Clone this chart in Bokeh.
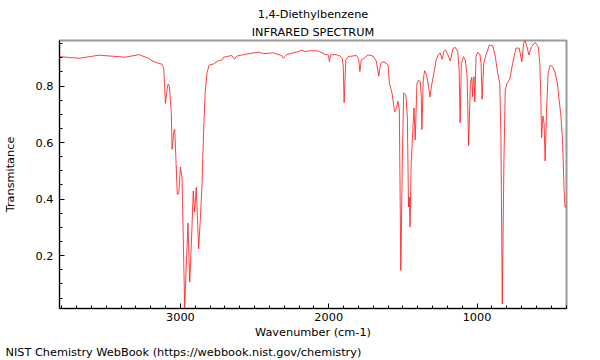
from bokeh.plotting import figure
from bokeh.models import Range1d, SingleIntervalTicker, Title
from bokeh.embed import file_html
from bokeh.resources import INLINE

title_line1 = "1,4-Diethylbenzene"
title_line2 = "INFRARED SPECTRUM"
x_label = "Wavenumber (cm-1)"
y_label = "Transmitance"
footer = "NIST Chemistry WebBook (https://webbook.nist.gov/chemistry)"

wavenumber = [
    3815, 3683, 3549, 3370, 3280, 3213, 3191, 3146, 3124, 3112, 3101, 3090, 3083, 3074,
    3061, 3056, 3043, 3038, 3029, 3021, 3011, 3000, 2989, 2971, 2960, 2949, 2937, 2927,
    2913, 2904, 2893, 2877, 2866, 2855, 2843, 2833, 2821, 2806, 2776, 2743, 2720, 2709,
    2653, 2635, 2620, 2564, 2474, 2440, 2373, 2317, 2306, 2284, 2205, 2183, 2161, 2116,
    2071, 2026, 2003, 1995, 1988, 1959, 1925, 1909, 1902, 1896, 1885, 1869, 1813, 1798,
    1790, 1780, 1768, 1735, 1701, 1679, 1663, 1650, 1634, 1612, 1600, 1591, 1573, 1556,
    1544, 1533, 1524, 1514, 1504, 1495, 1480, 1470, 1462, 1457, 1452, 1444, 1432, 1425,
    1417, 1405, 1394, 1383, 1376, 1372, 1363, 1353, 1341, 1327, 1318, 1304, 1291, 1276,
    1260, 1249, 1235, 1224, 1213, 1198, 1180, 1163, 1148, 1130, 1121, 1114, 1106, 1092,
    1079, 1067, 1057, 1045, 1036, 1030, 1025, 1020, 1015, 1007, 995, 980, 973, 966,
    955, 940, 917, 894, 877, 861, 847, 839, 830, 819, 810, 798, 780, 760, 738, 716,
    698, 686, 675, 664, 651, 632, 608, 588, 577, 570, 565, 556, 548, 541, 532, 521,
    507, 491, 476, 458, 447, 436, 424, 413, 407, 397,
]
transmittance = [
    0.904, 0.898, 0.909, 0.902, 0.911, 0.898, 0.889, 0.880, 0.877, 0.863, 0.739, 0.786, 0.807, 0.798,
    0.703, 0.576, 0.644, 0.646, 0.526, 0.417, 0.419, 0.514, 0.478, 0.013, 0.171, 0.315, 0.106, 0.230,
    0.429, 0.354, 0.441, 0.224, 0.325, 0.443, 0.644, 0.775, 0.845, 0.874, 0.878, 0.890, 0.892, 0.902,
    0.908, 0.895, 0.906, 0.912, 0.920, 0.915, 0.917, 0.908, 0.898, 0.911, 0.922, 0.927, 0.922, 0.925,
    0.924, 0.912, 0.910, 0.886, 0.910, 0.912, 0.907, 0.898, 0.868, 0.741, 0.892, 0.904, 0.908, 0.895,
    0.851, 0.892, 0.896, 0.910, 0.906, 0.888, 0.835, 0.880, 0.886, 0.880, 0.874, 0.810, 0.774, 0.709,
    0.720, 0.746, 0.715, 0.148, 0.526, 0.776, 0.768, 0.691, 0.372, 0.407, 0.301, 0.526, 0.656, 0.722,
    0.609, 0.810, 0.821, 0.815, 0.762, 0.646, 0.821, 0.854, 0.842, 0.798, 0.761, 0.810, 0.845, 0.892,
    0.912, 0.917, 0.895, 0.922, 0.928, 0.912, 0.888, 0.932, 0.937, 0.922, 0.857, 0.670, 0.880, 0.904,
    0.892, 0.833, 0.589, 0.810, 0.831, 0.762, 0.827, 0.833, 0.744, 0.904, 0.920, 0.910, 0.880, 0.753,
    0.880, 0.910, 0.945, 0.942, 0.904, 0.845, 0.810, 0.620, 0.029, 0.526, 0.786, 0.810, 0.824, 0.880, 0.934, 0.934,
    0.886, 0.951, 0.961, 0.940, 0.910, 0.940, 0.954, 0.940, 0.880, 0.762, 0.618, 0.694, 0.668, 0.535, 0.703, 0.845,
    0.874, 0.868, 0.851, 0.810, 0.750, 0.703, 0.609, 0.431, 0.372, 0.372,
]

FONT = "DejaVu Sans"
FS = "11.3px"

p = figure(
    width=600, height=360,
    output_backend="svg", toolbar_location=None,
    x_range=Range1d(max(wavenumber), min(wavenumber)),
    y_range=Range1d(min(transmittance), max(transmittance)),
    min_border_left=57, min_border_right=34, min_border_top=40, min_border_bottom=52,
)
p.background_fill_color = "white"
p.border_fill_color = "white"
p.outline_line_color = "#9a9a9a"
p.outline_line_width = 2
p.xgrid.visible = False
p.ygrid.visible = False

p.line(wavenumber, transmittance, line_color="#ff2020", line_width=1, line_alpha=0.85)

p.xaxis.ticker = SingleIntervalTicker(interval=1000, num_minor_ticks=10)
p.yaxis.ticker = SingleIntervalTicker(interval=0.2, num_minor_ticks=4)
for ax in (p.xaxis, p.yaxis):
    ax.major_tick_in = 5
    ax.major_tick_out = 0
    ax.minor_tick_in = 3
    ax.minor_tick_out = 0
    ax.axis_line_color = "black"
    ax.major_tick_line_color = "black"
    ax.minor_tick_line_color = "black"
    ax.major_label_text_font = FONT
    ax.major_label_text_font_size = FS
    ax.major_label_text_color = "black"
    ax.axis_label_text_font = FONT
    ax.axis_label_text_font_size = FS
    ax.axis_label_text_font_style = "normal"
    ax.axis_label_text_color = "black"

p.xaxis.axis_label = x_label
p.yaxis.axis_label = y_label
p.xaxis.major_label_standoff = 4
p.xaxis.axis_label_standoff = 2
p.yaxis.major_label_standoff = 6
p.yaxis.axis_label_standoff = 16

# titles: first added sits closest to the frame
for txt in (title_line2, title_line1):
    p.add_layout(Title(text=txt, align="center", text_font=FONT, text_font_size=FS,
                       text_font_style="normal", text_color="black", standoff=3), "above")

p.add_layout(Title(text=footer, align="left", offset=-54, text_font=FONT, text_font_size=FS,
                   text_font_style="normal", text_color="black", standoff=4), "below")

open("out.html", "w").write(file_html(p, INLINE))
